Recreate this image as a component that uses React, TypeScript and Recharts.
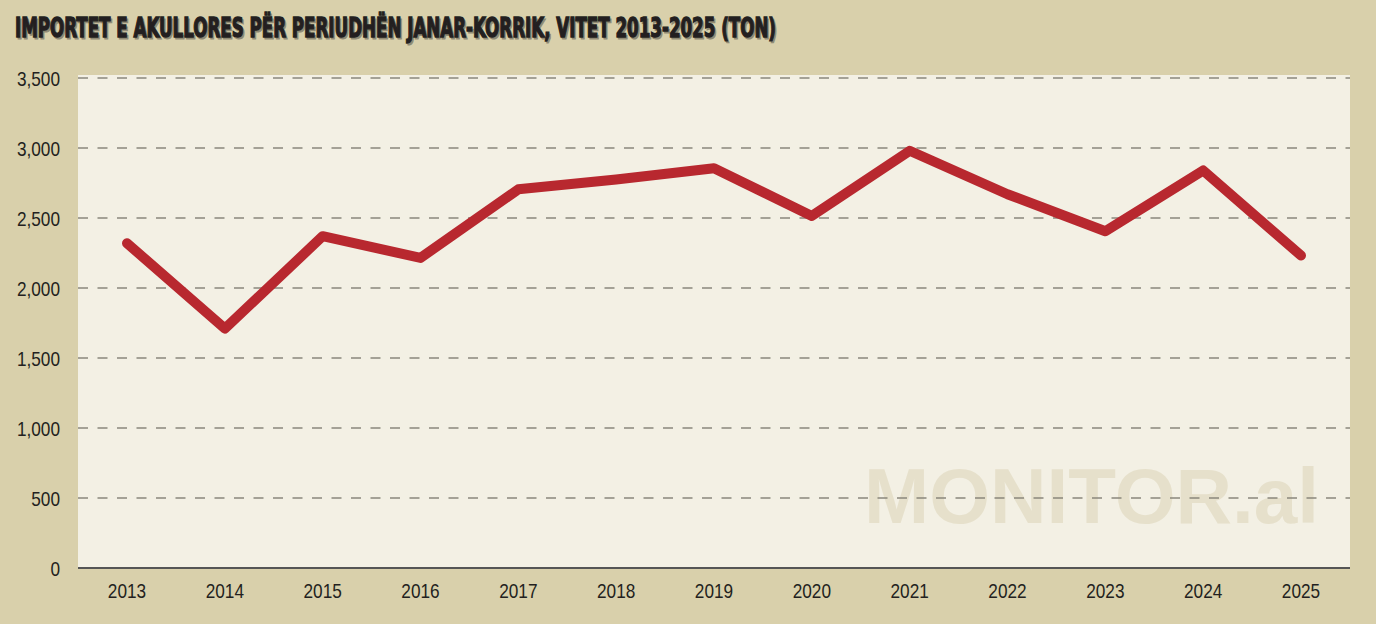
import React from "react";
import { LineChart, Line, XAxis, YAxis, CartesianGrid } from "recharts";

const years = ["2013", "2014", "2015", "2016", "2017", "2018", "2019", "2020", "2021", "2022", "2023", "2024", "2025"];
const imports = [2320, 1710, 2370, 2215, 2705, 2775, 2855, 2515, 2980, 2670, 2405, 2840, 2232];
const yTicks = [0, 500, 1000, 1500, 2000, 2500, 3000, 3500];
const title = "IMPORTET E AKULLORES PËR PERIUDHËN JANAR-KORRIK, VITET 2013-2025 (TON)";
const watermark = "MONITOR.al";

const data = years.map((y, i) => ({ year: y, value: imports[i] }));

const W = 1376;
const H = 624;
const TICK_FONT = "'Liberation Sans', Arial, sans-serif";
const TITLE_FONT = "'DejaVu Sans Condensed', 'Liberation Sans', sans-serif";

const XTick = (props: any) => {
  const { x, y, payload } = props;
  return (
    <text transform={`translate(${x},${y}) scale(0.82,1)`} textAnchor="middle" dy="0.71em" fill="#231f20" fontSize={21} fontFamily={TICK_FONT}>
      {payload.value}
    </text>
  );
};

const YTick = (props: any) => {
  const { x, y, payload } = props;
  return (
    <text transform={`translate(${x},${y}) scale(0.82,1)`} textAnchor="end" dy="0.36em" fill="#231f20" fontSize={21} fontFamily={TICK_FONT}>
      {Number(payload.value).toLocaleString("en-US")}
    </text>
  );
};

export default function App() {
  return (
    <div style={{ position: "absolute", left: 0, top: 0, width: W, height: H, background: "#d9d0ab", overflow: "hidden" }}>
      <div style={{ position: "absolute", left: 78, top: 75, width: 1272, height: 493, background: "#f3f0e4" }} />
      <svg width={W} height={H} style={{ position: "absolute", left: 0, top: 0 }}>
        <text x={864} y={523} fontFamily="'Liberation Sans', Arial, sans-serif" fontWeight={700} fontSize={78} fill="#e6e0cb" textLength={455} lengthAdjust="spacingAndGlyphs">
          {watermark}
        </text>
        <text x={16.5} y={38.5} fontFamily={TITLE_FONT} fontWeight={700} fontSize={26} fill="#8f8973" stroke="#8f8973" strokeWidth={1} textLength={761} lengthAdjust="spacingAndGlyphs">
          {title}
        </text>
        <text x={15} y={37} fontFamily={TITLE_FONT} fontWeight={700} fontSize={26} fill="#231f20" stroke="#231f20" strokeWidth={1.3} textLength={761} lengthAdjust="spacingAndGlyphs">
          {title}
        </text>
      </svg>
      <div style={{ position: "absolute", left: 0, top: 0 }}>
        <LineChart width={W} height={H} data={data} margin={{ top: 78, right: 26, bottom: 26, left: 0 }}>
          <CartesianGrid vertical={false} stroke="#8a877c" strokeWidth={1.6} strokeDasharray="10 9.5" horizontalValues={[500, 1000, 1500, 2000, 2500, 3000, 3500]} />
          <XAxis
            dataKey="year"
            height={30}
            padding={{ left: 49, right: 49 }}
            tickLine={false}
            tickSize={0}
            tickMargin={15}
            axisLine={{ stroke: "#555", strokeWidth: 2 }}
            tick={<XTick />}
            interval={0}
          />
          <YAxis
            width={78}
            domain={[0, 3500]}
            ticks={yTicks}
            axisLine={false}
            tickLine={false}
            tickSize={0}
            tickMargin={18}
            tick={<YTick />}
          />
          <Line
            type="linear"
            dataKey="value"
            stroke="#b8282f"
            strokeWidth={10}
            strokeLinecap="round"
            strokeLinejoin="round"
            dot={false}
            activeDot={false}
            isAnimationActive={false}
          />
        </LineChart>
      </div>
    </div>
  );
}
